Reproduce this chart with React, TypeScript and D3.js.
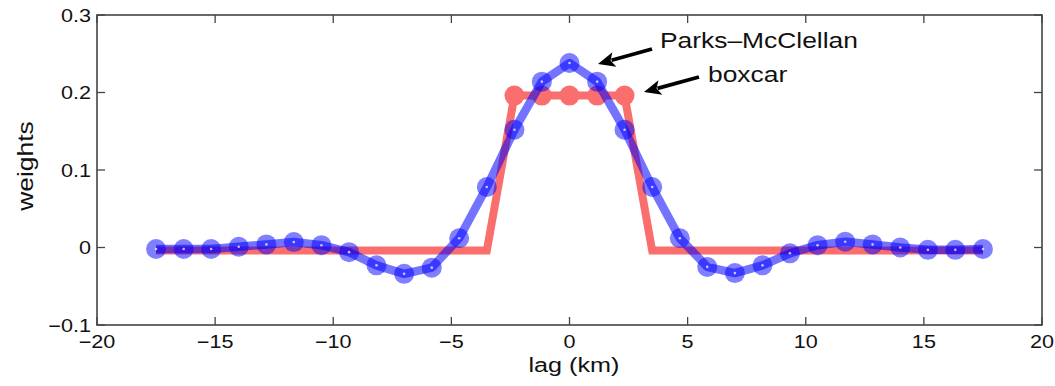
import React from "react";
import * as d3 from "d3";

const lags = [-17.5, -16.33, -15.17, -14, -12.83, -11.67, -10.5, -9.33, -8.17, -7, -5.83, -4.67, -3.5, -2.33, -1.17, 0, 1.17, 2.33, 3.5, 4.67, 5.83, 7, 8.17, 9.33, 10.5, 11.67, 12.83, 14, 15.17, 16.33, 17.5];
const parksMcClellan = [-0.002, -0.002, -0.002, 0.001, 0.004, 0.007, 0.003, -0.006, -0.023, -0.034, -0.026, 0.012, 0.078, 0.152, 0.214, 0.238, 0.214, 0.152, 0.078, 0.012, -0.025, -0.033, -0.023, -0.0075, 0.003, 0.0075, 0.004, 0, -0.003, -0.003, -0.002];
const boxcar = [-0.004, -0.004, -0.004, -0.004, -0.004, -0.004, -0.004, -0.004, -0.004, -0.004, -0.004, -0.004, -0.004, 0.196, 0.196, 0.196, 0.196, 0.196, -0.004, -0.004, -0.004, -0.004, -0.004, -0.004, -0.004, -0.004, -0.004, -0.004, -0.004, -0.004, -0.004];
const xTicks = [-20, -15, -10, -5, 0, 5, 10, 15, 20];
const yTicks = [-0.1, 0, 0.1, 0.2, 0.3];

const W = 1055;
const H = 386;
const L = 97, R = 1042, T = 15, B = 325;
const font = "'Liberation Sans', Arial, Helvetica, sans-serif";
const axisColor = "#444";
const SX = 1.2;

function fmt(v: number) {
  const s = String(Math.round(v * 10) / 10);
  return s.replace("-", "\u2212");
}

function WideText(props: { x: number; y: number; size: number; anchor?: "start" | "middle" | "end"; children: React.ReactNode; rotate?: boolean }) {
  const { x, y, size, anchor = "start", children, rotate } = props;
  const tr = rotate ? `translate(${x},${y}) rotate(-90) scale(${SX},1)` : `translate(${x},${y}) scale(${SX},1)`;
  return (
    <text transform={tr} fontSize={size} textAnchor={anchor} fill="#111">{children}</text>
  );
}

export default function App() {
  const x = d3.scaleLinear().domain([-20, 20]).range([L, R]);
  const y = d3.scaleLinear().domain([-0.1, 0.3]).range([B, T]);
  const line = d3.line<number>().x((_, i) => x(lags[i])).y((d) => y(d));
  const tickLen = 8;

  const arrow = (x1: number, y1: number, x2: number, y2: number) => {
    const ang = Math.atan2(y2 - y1, x2 - x1);
    const hl = 17, hw = 7.5;
    const c = Math.cos(ang), s = Math.sin(ang);
    const bx = x2 - hl * c, by = y2 - hl * s;
    const px = -s, py = c;
    return (
      <g>
        <line x1={x1} y1={y1} x2={bx + 3 * c} y2={by + 3 * s} stroke="#000" strokeWidth={3.8} />
        <polygon points={`${x2},${y2} ${bx + hw * px},${by + hw * py} ${bx + 4 * c},${by + 4 * s} ${bx - hw * px},${by - hw * py}`} fill="#000" />
      </g>
    );
  };

  return (
    <svg width={W} height={H} style={{ position: "absolute", left: 0, top: 0, background: "#fff" }} fontFamily={font}>
      <rect x={0} y={0} width={W} height={H} fill="#fff" />
      {/* boxcar */}
      <path d={line(boxcar) || ""} fill="none" stroke="#fa6e6e" strokeWidth={8} strokeLinejoin="miter" />
      {boxcar.map((v, i) => v > 0.1 ? <circle key={"r" + i} cx={x(lags[i])} cy={y(v)} r={10} fill="#fa6e6e" /> : null)}
      {/* Parks-McClellan */}
      <path d={line(parksMcClellan) || ""} fill="none" stroke="#0000ff" strokeOpacity={0.55} strokeWidth={8.5} strokeLinejoin="round" />
      {parksMcClellan.map((v, i) => (
        <circle key={"b" + i} cx={x(lags[i])} cy={y(v)} r={10} fill="#0000ff" fillOpacity={0.5} />
      ))}
      {parksMcClellan.map((v, i) => (
        <circle key={"bd" + i} cx={x(lags[i])} cy={y(v)} r={1.3} fill="#fff" fillOpacity={0.7} />
      ))}
      {/* axes box */}
      <rect x={L} y={T} width={R - L} height={B - T} fill="none" stroke={axisColor} strokeWidth={1.6} />
      {xTicks.map((t) => (
        <g key={"xt" + t}>
          <line x1={x(t)} x2={x(t)} y1={B} y2={B - tickLen} stroke={axisColor} strokeWidth={1.3} />
          <line x1={x(t)} x2={x(t)} y1={T} y2={T + tickLen} stroke={axisColor} strokeWidth={1.3} />
          <WideText x={x(t)} y={348} size={18} anchor="middle">{fmt(t)}</WideText>
        </g>
      ))}
      {yTicks.map((t) => (
        <g key={"yt" + t}>
          <line x1={L} x2={L + tickLen} y1={y(t)} y2={y(t)} stroke={axisColor} strokeWidth={1.3} />
          <line x1={R} x2={R - tickLen} y1={y(t)} y2={y(t)} stroke={axisColor} strokeWidth={1.3} />
          <WideText x={91} y={y(t) + 6.5} size={18} anchor="end">{fmt(t)}</WideText>
        </g>
      ))}
      <WideText x={574} y={372} size={21} anchor="middle">lag (km)</WideText>
      <WideText x={33} y={166} size={22} anchor="middle" rotate>weights</WideText>
      {/* annotations */}
      <WideText x={660} y={48} size={22}>Parks–McClellan</WideText>
      <WideText x={708} y={82} size={22}>boxcar</WideText>
      {arrow(652, 49, 598, 64)}
      {arrow(699, 77, 644, 92)}
    </svg>
  );
}
